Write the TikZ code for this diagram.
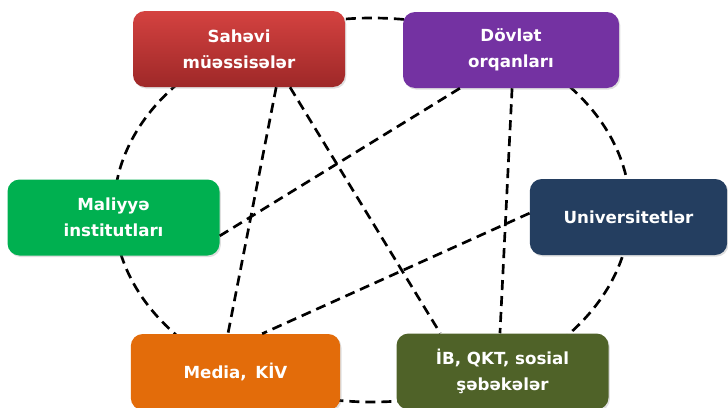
\documentclass[tikz,border=0pt]{standalone}
\usepackage{fontspec}
\newfontfamily\boxfont{DejaVu Sans}
\usetikzlibrary{calc}
\usetikzlibrary{shadows}
\definecolor{sahtop}{RGB}{212,66,64}
\definecolor{sahbot}{RGB}{158,40,40}
\definecolor{dovcol}{RGB}{116,50,162}
\definecolor{malcol}{RGB}{0,176,80}
\definecolor{unicol}{RGB}{36,62,96}
\definecolor{medcol}{RGB}{227,108,10}
\definecolor{ibcol}{RGB}{79,98,40}
\tikzset{
  orgbox/.style={rounded corners=9pt, minimum width=159pt, minimum height=57pt, inner sep=0pt,
    align=center, text=white, font=\boxfont\bfseries\fontsize{12.5}{19.5}\selectfont,
    drop shadow={shadow xshift=1pt, shadow yshift=-1.2pt, opacity=.25}},
  link/.style={draw=black, line width=2pt, dash pattern=on 7.5pt off 4.5pt},
}

\begin{document}
\begin{tikzpicture}[x=.75pt, y=-.75pt]
\useasboundingbox (0,0) rectangle (728,407);
% ring behind the boxes
\draw[link] (372,210) ellipse [x radius=258, y radius=192];
% boxes
\node[orgbox, top color=sahtop, bottom color=sahbot] (sah) at (239,49) {Sahəvi\\müəssisələr};
\node[orgbox, fill=dovcol, minimum width=162pt] (dov) at (511,50) {Dövlət\\orqanları};
\node[orgbox, fill=malcol] (mal) at (113.5,217.5) {Maliyyə\\institutları};
\node[orgbox, fill=unicol, minimum width=148pt] (uni) at (628.5,217) {Universitetlər};
\node[orgbox, fill=medcol, minimum width=157pt] (med) at (235.5,372) {Media,\, KİV};
\node[orgbox, fill=ibcol] (ib) at (502.5,371.5) {İB, QKT, sosial\\şəbəkələr};
% links
\draw[link] ($(sah.south west)!.675!(sah.south east)$) -- ($(med.north west)!.464!(med.north east)$);
\draw[link] ($(sah.south west)!.74!(sah.south east)$) -- ($(ib.north west)!.207!(ib.north east)$);
\draw[link] ($(dov.south west)!.264!(dov.south east)$) -- ($(mal.north east)!.74!(mal.south east)$);
\draw[link] ($(dov.south west)!.505!(dov.south east)$) -- ($(ib.north west)!.488!(ib.north east)$);
\draw[link] ($(uni.north west)!.45!(uni.south west)$) -- ($(med.north west)!.627!(med.north east)$);
\end{tikzpicture}
\end{document}
